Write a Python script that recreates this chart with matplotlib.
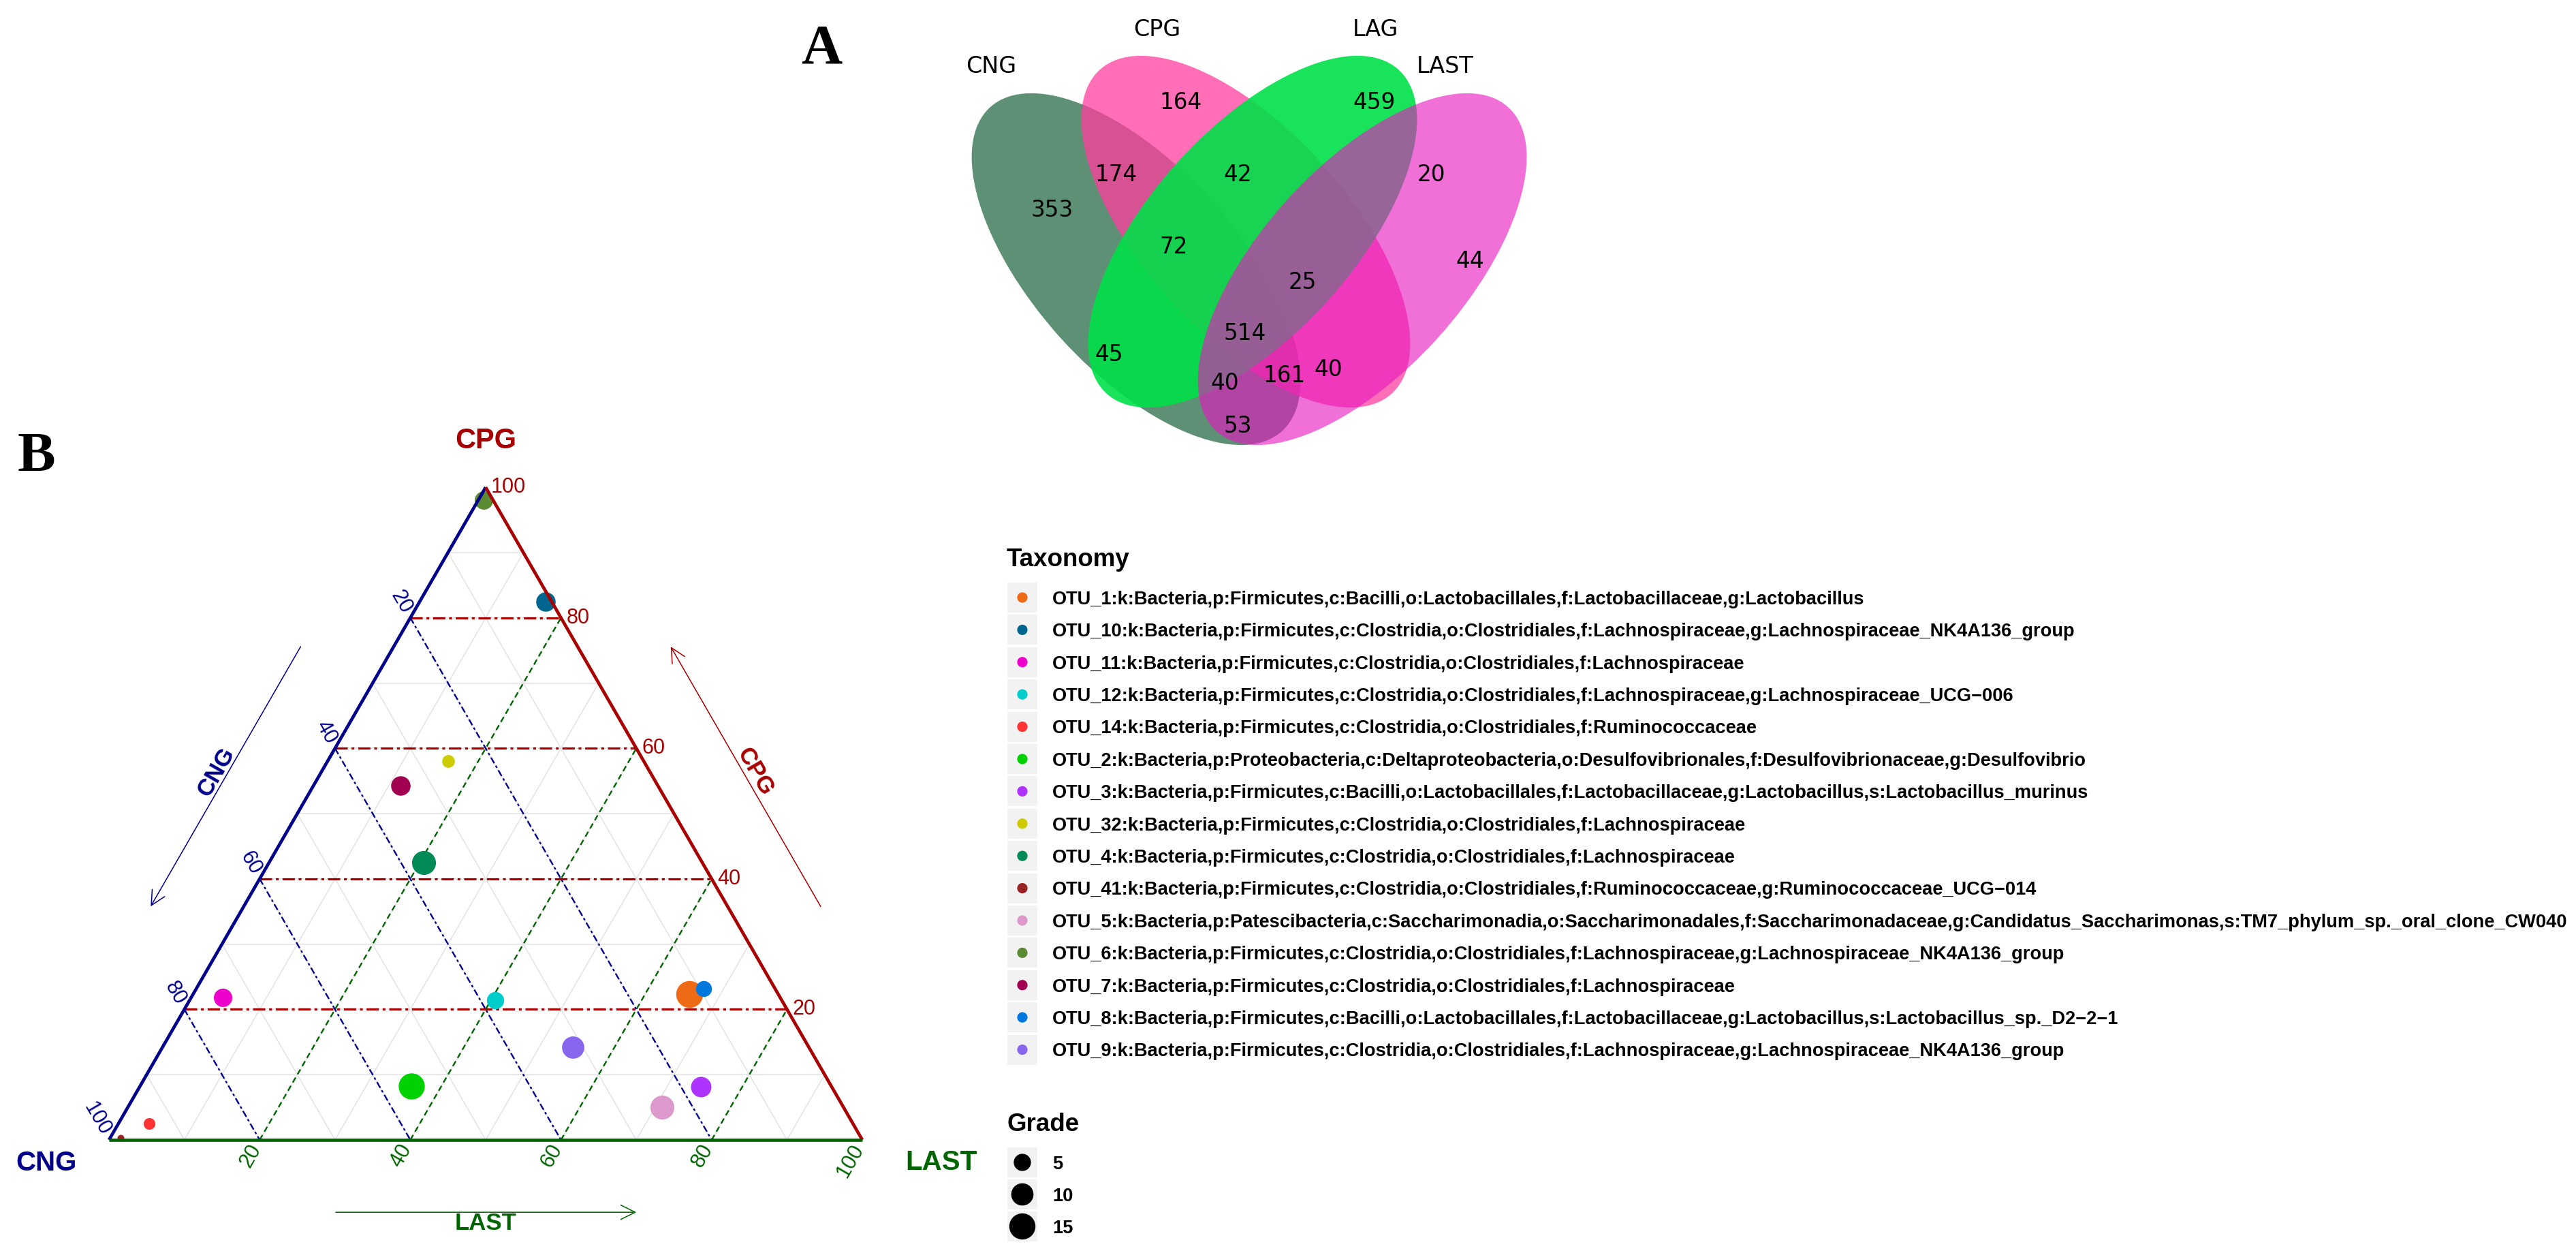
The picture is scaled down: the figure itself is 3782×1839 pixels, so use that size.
#!/usr/bin/env python3

import numpy as np
import matplotlib
matplotlib.use('Agg')
import matplotlib.pyplot as plt
from matplotlib.patches import Ellipse, Rectangle, Circle

plt.rcParams['lines.scale_dashes'] = False

W, H = 3782, 1839
S3 = np.sqrt(3) / 2
PX = 1106.0          # pixels per ternary unit (triangle side)
PT = 0.72            # points per pixel at dpi 100

# ---------------- A : venn counts
venn_names = ['CNG', 'CPG', 'LAG', 'LAST']
venn_regions = ['CNG', 'CPG', 'LAG', 'LAST', 'CNG&CPG', 'CPG&LAG', 'LAG&LAST',
	'CNG&CPG&LAG', 'CPG&LAG&LAST', 'CNG&CPG&LAG&LAST', 'CNG&LAG', 'CNG&LAG&LAST',
	'CNG&CPG&LAST', 'CPG&LAST', 'CNG&LAST']
venn_counts = [353, 164, 459, 44, 174, 42, 20, 72, 25, 514, 45, 40, 161, 40, 53]

# ---------------- B : ternary data
otu_ids = ['OTU_1', 'OTU_10', 'OTU_11', 'OTU_12', 'OTU_14', 'OTU_2', 'OTU_3', 'OTU_32',
	'OTU_4', 'OTU_41', 'OTU_5', 'OTU_6', 'OTU_7', 'OTU_8', 'OTU_9']
otu_tax = [
	'k:Bacteria,p:Firmicutes,c:Bacilli,o:Lactobacillales,f:Lactobacillaceae,g:Lactobacillus',
	'k:Bacteria,p:Firmicutes,c:Clostridia,o:Clostridiales,f:Lachnospiraceae,g:Lachnospiraceae_NK4A136_group',
	'k:Bacteria,p:Firmicutes,c:Clostridia,o:Clostridiales,f:Lachnospiraceae',
	'k:Bacteria,p:Firmicutes,c:Clostridia,o:Clostridiales,f:Lachnospiraceae,g:Lachnospiraceae_UCG\u2212006',
	'k:Bacteria,p:Firmicutes,c:Clostridia,o:Clostridiales,f:Ruminococcaceae',
	'k:Bacteria,p:Proteobacteria,c:Deltaproteobacteria,o:Desulfovibrionales,f:Desulfovibrionaceae,g:Desulfovibrio',
	'k:Bacteria,p:Firmicutes,c:Bacilli,o:Lactobacillales,f:Lactobacillaceae,g:Lactobacillus,s:Lactobacillus_murinus',
	'k:Bacteria,p:Firmicutes,c:Clostridia,o:Clostridiales,f:Lachnospiraceae',
	'k:Bacteria,p:Firmicutes,c:Clostridia,o:Clostridiales,f:Lachnospiraceae',
	'k:Bacteria,p:Firmicutes,c:Clostridia,o:Clostridiales,f:Ruminococcaceae,g:Ruminococcaceae_UCG\u2212014',
	'k:Bacteria,p:Patescibacteria,c:Saccharimonadia,o:Saccharimonadales,f:Saccharimonadaceae,g:Candidatus_Saccharimonas,s:TM7_phylum_sp._oral_clone_CW040',
	'k:Bacteria,p:Firmicutes,c:Clostridia,o:Clostridiales,f:Lachnospiraceae,g:Lachnospiraceae_NK4A136_group',
	'k:Bacteria,p:Firmicutes,c:Clostridia,o:Clostridiales,f:Lachnospiraceae',
	'k:Bacteria,p:Firmicutes,c:Bacilli,o:Lactobacillales,f:Lactobacillaceae,g:Lactobacillus,s:Lactobacillus_sp._D2\u22122\u22121',
	'k:Bacteria,p:Firmicutes,c:Clostridia,o:Clostridiales,f:Lachnospiraceae,g:Lachnospiraceae_NK4A136_group',
]
cng  = [11.8, 0.8, 74.0, 38.0, 93.4, 55.8, 17.4, 25.9, 37.0, 98.3, 24.1, 1.3, 34.2, 9.5, 31.3]
cpg  = [22.3, 82.5, 21.8, 21.4, 2.5, 8.2, 8.1, 58.1, 42.5, 0.3, 5.0, 98.0, 54.3, 23.2, 14.2]
last = [65.9, 16.7, 4.2, 40.6, 4.1, 36.0, 74.5, 16.0, 20.5, 1.4, 70.9, 0.7, 11.5, 67.3, 54.5]
grade = [16, 7, 6, 5, 1.5, 15, 8, 2, 12, 0.1, 12, 6, 7, 4, 10]
grade_breaks = [5, 10, 15]
tick_values = [20, 40, 60, 80, 100]

otu_colors = ['#EE6A14', '#00668F', '#EE00CC', '#00CCCC', '#FF3333', '#00D100', '#AE33FF',
	'#CCCC00', '#008A55', '#992222', '#DD99CC', '#5B8A33', '#A0004F', '#0077DD', '#8866EE']

C_CNG, C_CPG, C_LAST = '#00008B', '#A80000', '#006400'
SANS = 'Liberation Sans'


def tern(a, b, c) :
	""" a = CNG (bottom left), b = CPG (top), c = LAST (bottom right) """
	a, b, c = np.asarray(a, float), np.asarray(b, float), np.asarray(c, float)
	s = a + b + c
	return (c + b / 2) / s, b / s * S3


def grade_radius(g) :
	# pixel radius of a point for a given grade (fitted on the size legend)
	return 3.7 + 4.0 * np.sqrt(np.asarray(g, float))


fig = plt.figure(figsize=(W / 100, H / 100), dpi=100, facecolor='w')

# overlay in pixel coordinates, y going down
over = fig.add_axes([0, 0, 1, 1])
over.set_xlim(0, W)
over.set_ylim(H, 0)
over.axis('off')


def ctext(x, y, s, size, cap=0.716, **kw) :
	""" put a text with its capital letters centred on y """
	over.text(x, y + cap * size / PT / 2, s, fontsize=size, va='baseline', **kw)


# ---------------- panel A : venn
ctext(1206, 65, 'A', 60, cap=0.662, family='Liberation Serif', weight='bold', ha='center')

venn_center = [(1668, 395), (1829, 340), (1839, 340), (2000, 395)]
venn_angle = [48, 48, -48, -48]
venn_fill = ['#367552', '#FF3D9E', '#00E048', '#E718C0']
venn_alpha = [0.8, 0.75, 0.9, 0.62]
for (cx, cy), ang, fc, al in zip(venn_center, venn_angle, venn_fill, venn_alpha) :
	over.add_patch(Ellipse((cx, cy), 640, 300, angle=ang, facecolor=fc, alpha=al,
		edgecolor='none'))

venn_label_xy = [(1455, 95), (1699, 41), (2019, 41), (2122, 95)]
for name, (x, y) in zip(venn_names, venn_label_xy) :
	ctext(x, y, name, 24, cap=0.729, family='DejaVu Sans', ha='center')

venn_count_xy = [(1545, 306), (1734, 148), (2018, 148), (2158, 381), (1639, 254),
	(1817, 254), (2101, 254), (1723, 360), (1912, 412), (1828, 487), (1628, 518),
	(1798, 560), (1885, 549), (1950, 540), (1817, 623)]
for n, (x, y) in zip(venn_counts, venn_count_xy) :
	ctext(x, y, str(n), 23.5, cap=0.729, family='DejaVu Sans', ha='center')

# ---------------- panel B : ternary
ctext(53, 663, 'B', 60, cap=0.662, family='Liberation Serif', weight='bold', ha='center')

ax = fig.add_axes([5.2 / W, 0.1 / H, 1.24 * PX / W, 1.1 * PX / H])
ax.set_xlim(-0.14, 1.10)
ax.set_ylim(-0.15, 0.95)
ax.axis('off')

# light grid every 10
for v in range(10, 100, 10) :
	for p, q in [((100 - v, v, 0), (0, v, 100 - v)),
			((v, 100 - v, 0), (v, 0, 100 - v)),
			((100 - v, 0, v), (0, 100 - v, v))] :
		x0, y0 = tern(*p)
		x1, y1 = tern(*q)
		ax.plot([x0, x1], [y0, y1], color='#E3E3E3', lw=1.1, zorder=1)

# highlighted grid every 20
for v in tick_values[:-1] :
	x0, y0 = tern(100 - v, v, 0)
	x1, y1 = tern(0, v, 100 - v)
	ax.plot([x0, x1], [y0, y1], color=C_CPG, lw=2.3, dashes=(13, 4, 3, 4), zorder=2)
	x0, y0 = tern(v, 100 - v, 0)
	x1, y1 = tern(v, 0, 100 - v)
	ax.plot([x0, x1], [y0, y1], color=C_CNG, lw=1.7, dashes=(7, 3, 2.5, 3), zorder=2)
	x0, y0 = tern(100 - v, 0, v)
	x1, y1 = tern(0, 100 - v, v)
	ax.plot([x0, x1], [y0, y1], color=C_LAST, lw=1.7, dashes=(6, 4), zorder=2)

# points
px, py = tern(cng, cpg, last)
sizes = (2 * grade_radius(grade) * PT) ** 2
for i in range(len(otu_ids)) :
	ax.scatter(px[i], py[i], s=sizes[i], color=otu_colors[i], linewidths=0, zorder=4)

# triangle edges
xl, yl = tern([100, 0], [0, 100], [0, 0])
ax.plot(xl, yl, color=C_CNG, lw=3.4, solid_capstyle='butt', zorder=5)
xr, yr = tern([0, 0], [100, 0], [0, 100])
ax.plot(xr, yr, color=C_CPG, lw=3.4, solid_capstyle='butt', zorder=5)
xb, yb = tern([100, 0], [0, 0], [0, 100])
ax.plot(xb, yb, color=C_LAST, lw=3.4, solid_capstyle='butt', zorder=6)

# tick labels
d0 = 10 * PT
for v in tick_values :
	x, y = tern(v, 100 - v, 0)
	ax.annotate(str(v), (x, y), xytext=(-0.5 * d0, S3 * d0), textcoords='offset points',
		rotation=-60, rotation_mode='anchor', ha='right', va='center',
		color=C_CNG, fontsize=22, family=SANS, annotation_clip=False)
	x, y = tern(0, v, 100 - v)
	ax.annotate(str(v), (x, y), xytext=(8 * PT, 0), textcoords='offset points',
		ha='left', va='center', color=C_CPG, fontsize=22, family=SANS,
		annotation_clip=False)
	x, y = tern(100 - v, 0, v)
	ax.annotate(str(v), (x, y), xytext=(-0.5 * d0, -S3 * d0), textcoords='offset points',
		rotation=60, rotation_mode='anchor', ha='right', va='center',
		color=C_LAST, fontsize=22, family=SANS, annotation_clip=False)

# axis titles at the corners
ax.annotate('CPG', tern(0, 100, 0), xytext=(0, 68 * PT), textcoords='offset points',
	ha='center', va='center', color=C_CPG, fontsize=30, weight='bold', family=SANS)
ax.annotate('CNG', tern(100, 0, 0), xytext=(-92 * PT, -34 * PT), textcoords='offset points',
	ha='center', va='center', color=C_CNG, fontsize=29, weight='bold', family=SANS)
ax.annotate('LAST', tern(0, 0, 100), xytext=(116 * PT, -33 * PT), textcoords='offset points',
	ha='center', va='center', color=C_LAST, fontsize=29, weight='bold', family=SANS)

# direction arrows along the sides
off, toff = 0.107, 0.121
arrow_kw = dict(arrowstyle='->', lw=1.1, mutation_scale=38, shrinkA=0, shrinkB=0)

def left_side(f, d) :
	return (0.5 * f - S3 * d, S3 * f + 0.5 * d)

def right_side(f, d) :
	return (1 - 0.5 * f + S3 * d, S3 * f + 0.5 * d)

ax.annotate('', xy=left_side(0.296, off), xytext=left_side(0.694, off),
	arrowprops=dict(color=C_CNG, **arrow_kw))
ax.text(*left_side(0.494, toff), 'CNG', rotation=60, ha='center', va='center',
	color=C_CNG, fontsize=25, weight='bold', family=SANS)
ax.annotate('', xy=right_side(0.694, off), xytext=right_side(0.296, off),
	arrowprops=dict(color=C_CPG, **arrow_kw))
ax.text(*right_side(0.494, toff), 'CPG', rotation=-60, ha='center', va='center',
	color=C_CPG, fontsize=25, weight='bold', family=SANS)
ax.annotate('', xy=(0.70, -0.096), xytext=(0.301, -0.096),
	arrowprops=dict(color=C_LAST, **arrow_kw))
ax.text(0.5, -0.111, 'LAST', ha='center', va='center',
	color=C_LAST, fontsize=25, weight='bold', family=SANS)

# ---------------- legends
ctext(1478, 818, 'Taxonomy', 26.5, family=SANS, weight='bold', ha='left')
for i, (oid, tax, col) in enumerate(zip(otu_ids, otu_tax, otu_colors)) :
	y = 877 + 47.4 * i
	over.add_patch(Rectangle((1479, y - 22), 44, 44, facecolor='#F2F2F2', edgecolor='none'))
	over.add_patch(Circle((1501, y), 7.6, facecolor=col, edgecolor='none'))
	ctext(1545, y, oid + ':' + tax, 19.6, family=SANS, weight='bold', ha='left')

ctext(1479, 1647, 'Grade', 26.5, family=SANS, weight='bold', ha='left')
for i, g in enumerate(grade_breaks) :
	y = 1706 + 47 * i
	over.add_patch(Rectangle((1479, y - 22), 44, 44, facecolor='#F2F2F2', edgecolor='none'))
	over.add_patch(Circle((1501, y), float(grade_radius(g)), facecolor='black', edgecolor='none'))
	ctext(1545, y, str(g), 19.6, family=SANS, weight='bold', ha='left')

fig.savefig('out.png', dpi=100, facecolor='w')
